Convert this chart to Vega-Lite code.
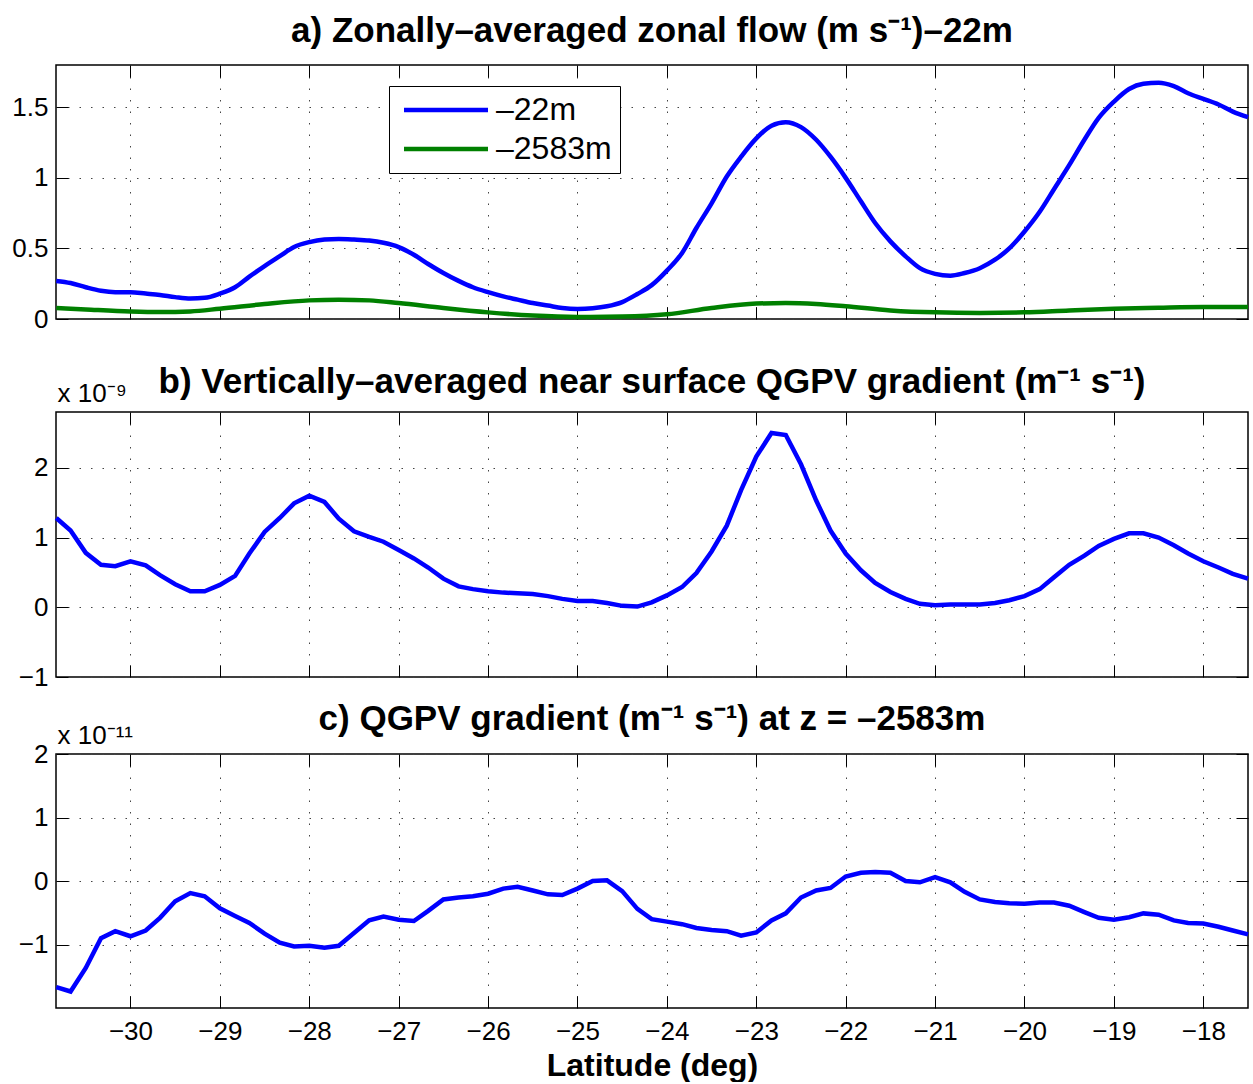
{
  "$schema": "https://vega.github.io/schema/vega-lite/v6.json",
  "background": "white",
  "padding": {"left": 11, "top": 12, "right": 4, "bottom": 0},
  "config": {
    "font": "Liberation Sans",
    "view": {"stroke": "#000", "strokeWidth": 1.5},
    "axis": {"labelFont": "Liberation Sans", "labelFontSize": 26, "labelColor": "#000", "tickColor": "#000", "tickSize": -12, "tickWidth": 1, "domain": false, "gridColor": "#444", "gridDash": [1.5, 10], "gridWidth": 1, "gridOpacity": 1, "titleColor": "#000", "titleFont": "Liberation Sans", "format": "~g"},
    "title": {"font": "Liberation Sans", "fontSize": 35, "fontWeight": "bold", "color": "#000", "anchor": "middle", "baseline": "alphabetic"}
  },
  "datasets": {
    "flow": [
      {"lat":-30.83,"u":0.27,"depth":"–22m"},{"lat":-30.67,"u":0.255,"depth":"–22m"},{"lat":-30.5,"u":0.225,"depth":"–22m"},{"lat":-30.33,"u":0.2,"depth":"–22m"},{"lat":-30.17,"u":0.19,"depth":"–22m"},{"lat":-30.0,"u":0.19,"depth":"–22m"},{"lat":-29.83,"u":0.18,"depth":"–22m"},{"lat":-29.67,"u":0.17,"depth":"–22m"},{"lat":-29.5,"u":0.155,"depth":"–22m"},{"lat":-29.33,"u":0.145,"depth":"–22m"},{"lat":-29.17,"u":0.15,"depth":"–22m"},{"lat":-29.0,"u":0.18,"depth":"–22m"},{"lat":-28.83,"u":0.225,"depth":"–22m"},{"lat":-28.67,"u":0.3,"depth":"–22m"},{"lat":-28.5,"u":0.375,"depth":"–22m"},{"lat":-28.33,"u":0.445,"depth":"–22m"},{"lat":-28.17,"u":0.51,"depth":"–22m"},{"lat":-28.0,"u":0.545,"depth":"–22m"},{"lat":-27.83,"u":0.563,"depth":"–22m"},{"lat":-27.67,"u":0.567,"depth":"–22m"},{"lat":-27.5,"u":0.563,"depth":"–22m"},{"lat":-27.33,"u":0.556,"depth":"–22m"},{"lat":-27.17,"u":0.54,"depth":"–22m"},{"lat":-27.0,"u":0.51,"depth":"–22m"},{"lat":-26.83,"u":0.455,"depth":"–22m"},{"lat":-26.67,"u":0.39,"depth":"–22m"},{"lat":-26.5,"u":0.326,"depth":"–22m"},{"lat":-26.33,"u":0.27,"depth":"–22m"},{"lat":-26.17,"u":0.225,"depth":"–22m"},{"lat":-26.0,"u":0.19,"depth":"–22m"},{"lat":-25.83,"u":0.16,"depth":"–22m"},{"lat":-25.67,"u":0.137,"depth":"–22m"},{"lat":-25.5,"u":0.113,"depth":"–22m"},{"lat":-25.33,"u":0.095,"depth":"–22m"},{"lat":-25.17,"u":0.078,"depth":"–22m"},{"lat":-25.0,"u":0.071,"depth":"–22m"},{"lat":-24.83,"u":0.076,"depth":"–22m"},{"lat":-24.67,"u":0.09,"depth":"–22m"},{"lat":-24.5,"u":0.12,"depth":"–22m"},{"lat":-24.33,"u":0.177,"depth":"–22m"},{"lat":-24.17,"u":0.24,"depth":"–22m"},{"lat":-24.0,"u":0.343,"depth":"–22m"},{"lat":-23.83,"u":0.468,"depth":"–22m"},{"lat":-23.67,"u":0.645,"depth":"–22m"},{"lat":-23.5,"u":0.82,"depth":"–22m"},{"lat":-23.33,"u":1.01,"depth":"–22m"},{"lat":-23.17,"u":1.15,"depth":"–22m"},{"lat":-23.0,"u":1.28,"depth":"–22m"},{"lat":-22.83,"u":1.37,"depth":"–22m"},{"lat":-22.67,"u":1.395,"depth":"–22m"},{"lat":-22.5,"u":1.36,"depth":"–22m"},{"lat":-22.33,"u":1.27,"depth":"–22m"},{"lat":-22.17,"u":1.15,"depth":"–22m"},{"lat":-22.0,"u":1.0,"depth":"–22m"},{"lat":-21.83,"u":0.834,"depth":"–22m"},{"lat":-21.67,"u":0.68,"depth":"–22m"},{"lat":-21.5,"u":0.55,"depth":"–22m"},{"lat":-21.33,"u":0.444,"depth":"–22m"},{"lat":-21.17,"u":0.36,"depth":"–22m"},{"lat":-21.0,"u":0.32,"depth":"–22m"},{"lat":-20.83,"u":0.307,"depth":"–22m"},{"lat":-20.67,"u":0.326,"depth":"–22m"},{"lat":-20.5,"u":0.36,"depth":"–22m"},{"lat":-20.33,"u":0.42,"depth":"–22m"},{"lat":-20.17,"u":0.5,"depth":"–22m"},{"lat":-20.0,"u":0.62,"depth":"–22m"},{"lat":-19.83,"u":0.76,"depth":"–22m"},{"lat":-19.67,"u":0.92,"depth":"–22m"},{"lat":-19.5,"u":1.09,"depth":"–22m"},{"lat":-19.33,"u":1.27,"depth":"–22m"},{"lat":-19.17,"u":1.425,"depth":"–22m"},{"lat":-19.0,"u":1.54,"depth":"–22m"},{"lat":-18.83,"u":1.63,"depth":"–22m"},{"lat":-18.67,"u":1.667,"depth":"–22m"},{"lat":-18.5,"u":1.674,"depth":"–22m"},{"lat":-18.33,"u":1.65,"depth":"–22m"},{"lat":-18.17,"u":1.6,"depth":"–22m"},{"lat":-18.0,"u":1.56,"depth":"–22m"},{"lat":-17.83,"u":1.52,"depth":"–22m"},{"lat":-17.67,"u":1.47,"depth":"–22m"},{"lat":-17.5,"u":1.43,"depth":"–22m"},
      {"lat":-30.83,"u":0.078,"depth":"–2583m"},{"lat":-30.5,"u":0.068,"depth":"–2583m"},{"lat":-30.0,"u":0.054,"depth":"–2583m"},{"lat":-29.67,"u":0.05,"depth":"–2583m"},{"lat":-29.33,"u":0.054,"depth":"–2583m"},{"lat":-29.0,"u":0.073,"depth":"–2583m"},{"lat":-28.5,"u":0.106,"depth":"–2583m"},{"lat":-28.0,"u":0.132,"depth":"–2583m"},{"lat":-27.67,"u":0.137,"depth":"–2583m"},{"lat":-27.33,"u":0.132,"depth":"–2583m"},{"lat":-27.0,"u":0.113,"depth":"–2583m"},{"lat":-26.5,"u":0.078,"depth":"–2583m"},{"lat":-26.0,"u":0.047,"depth":"–2583m"},{"lat":-25.5,"u":0.024,"depth":"–2583m"},{"lat":-25.0,"u":0.014,"depth":"–2583m"},{"lat":-24.5,"u":0.017,"depth":"–2583m"},{"lat":-24.0,"u":0.033,"depth":"–2583m"},{"lat":-23.5,"u":0.078,"depth":"–2583m"},{"lat":-23.0,"u":0.109,"depth":"–2583m"},{"lat":-22.67,"u":0.113,"depth":"–2583m"},{"lat":-22.33,"u":0.106,"depth":"–2583m"},{"lat":-22.0,"u":0.09,"depth":"–2583m"},{"lat":-21.5,"u":0.061,"depth":"–2583m"},{"lat":-21.0,"u":0.047,"depth":"–2583m"},{"lat":-20.5,"u":0.043,"depth":"–2583m"},{"lat":-20.0,"u":0.047,"depth":"–2583m"},{"lat":-19.5,"u":0.061,"depth":"–2583m"},{"lat":-19.0,"u":0.073,"depth":"–2583m"},{"lat":-18.5,"u":0.08,"depth":"–2583m"},{"lat":-18.0,"u":0.085,"depth":"–2583m"},{"lat":-17.5,"u":0.085,"depth":"–2583m"}
    ],
    "surf": [
      {"lat":-30.83,"g":1.28},{"lat":-30.67,"g":1.1},{"lat":-30.5,"g":0.78},{"lat":-30.33,"g":0.61},{"lat":-30.17,"g":0.59},{"lat":-30.0,"g":0.66},{"lat":-29.83,"g":0.6},{"lat":-29.67,"g":0.46},{"lat":-29.5,"g":0.33},{"lat":-29.33,"g":0.23},{"lat":-29.17,"g":0.23},{"lat":-29.0,"g":0.32},{"lat":-28.83,"g":0.45},{"lat":-28.67,"g":0.77},{"lat":-28.5,"g":1.08},{"lat":-28.33,"g":1.28},{"lat":-28.17,"g":1.49},{"lat":-28.0,"g":1.6},{"lat":-27.83,"g":1.51},{"lat":-27.67,"g":1.27},{"lat":-27.5,"g":1.09},{"lat":-27.33,"g":1.01},{"lat":-27.17,"g":0.94},{"lat":-27.0,"g":0.82},{"lat":-26.83,"g":0.7},{"lat":-26.67,"g":0.57},{"lat":-26.5,"g":0.41},{"lat":-26.33,"g":0.3},{"lat":-26.17,"g":0.26},{"lat":-26.0,"g":0.23},{"lat":-25.83,"g":0.21},{"lat":-25.67,"g":0.2},{"lat":-25.5,"g":0.19},{"lat":-25.33,"g":0.16},{"lat":-25.17,"g":0.12},{"lat":-25.0,"g":0.09},{"lat":-24.83,"g":0.09},{"lat":-24.67,"g":0.06},{"lat":-24.5,"g":0.02},{"lat":-24.33,"g":0.01},{"lat":-24.17,"g":0.07},{"lat":-24.0,"g":0.17},{"lat":-23.83,"g":0.29},{"lat":-23.67,"g":0.49},{"lat":-23.5,"g":0.8},{"lat":-23.33,"g":1.17},{"lat":-23.17,"g":1.68},{"lat":-23.0,"g":2.16},{"lat":-22.83,"g":2.5},{"lat":-22.67,"g":2.47},{"lat":-22.5,"g":2.05},{"lat":-22.33,"g":1.53},{"lat":-22.17,"g":1.1},{"lat":-22.0,"g":0.77},{"lat":-21.83,"g":0.53},{"lat":-21.67,"g":0.35},{"lat":-21.5,"g":0.22},{"lat":-21.33,"g":0.12},{"lat":-21.17,"g":0.05},{"lat":-21.0,"g":0.03},{"lat":-20.83,"g":0.04},{"lat":-20.67,"g":0.04},{"lat":-20.5,"g":0.04},{"lat":-20.33,"g":0.06},{"lat":-20.17,"g":0.1},{"lat":-20.0,"g":0.16},{"lat":-19.83,"g":0.26},{"lat":-19.67,"g":0.43},{"lat":-19.5,"g":0.61},{"lat":-19.33,"g":0.74},{"lat":-19.17,"g":0.88},{"lat":-19.0,"g":0.98},{"lat":-18.83,"g":1.06},{"lat":-18.67,"g":1.06},{"lat":-18.5,"g":1.0},{"lat":-18.33,"g":0.89},{"lat":-18.17,"g":0.77},{"lat":-18.0,"g":0.66},{"lat":-17.83,"g":0.57},{"lat":-17.67,"g":0.48},{"lat":-17.5,"g":0.41}
    ],
    "deep": [
      {"lat":-30.83,"g":-1.67},{"lat":-30.67,"g":-1.74},{"lat":-30.5,"g":-1.37},{"lat":-30.33,"g":-0.9},{"lat":-30.17,"g":-0.79},{"lat":-30.0,"g":-0.87},{"lat":-29.83,"g":-0.78},{"lat":-29.67,"g":-0.58},{"lat":-29.5,"g":-0.32},{"lat":-29.33,"g":-0.19},{"lat":-29.17,"g":-0.24},{"lat":-29.0,"g":-0.43},{"lat":-28.83,"g":-0.55},{"lat":-28.67,"g":-0.66},{"lat":-28.5,"g":-0.83},{"lat":-28.33,"g":-0.97},{"lat":-28.17,"g":-1.03},{"lat":-28.0,"g":-1.02},{"lat":-27.83,"g":-1.05},{"lat":-27.67,"g":-1.02},{"lat":-27.5,"g":-0.82},{"lat":-27.33,"g":-0.62},{"lat":-27.17,"g":-0.56},{"lat":-27.0,"g":-0.61},{"lat":-26.83,"g":-0.63},{"lat":-26.67,"g":-0.47},{"lat":-26.5,"g":-0.29},{"lat":-26.33,"g":-0.26},{"lat":-26.17,"g":-0.24},{"lat":-26.0,"g":-0.2},{"lat":-25.83,"g":-0.12},{"lat":-25.67,"g":-0.09},{"lat":-25.5,"g":-0.15},{"lat":-25.33,"g":-0.21},{"lat":-25.17,"g":-0.22},{"lat":-25.0,"g":-0.12},{"lat":-24.83,"g":0.0},{"lat":-24.67,"g":0.01},{"lat":-24.5,"g":-0.16},{"lat":-24.33,"g":-0.44},{"lat":-24.17,"g":-0.6},{"lat":-24.0,"g":-0.64},{"lat":-23.83,"g":-0.68},{"lat":-23.67,"g":-0.74},{"lat":-23.5,"g":-0.77},{"lat":-23.33,"g":-0.79},{"lat":-23.17,"g":-0.86},{"lat":-23.0,"g":-0.81},{"lat":-22.83,"g":-0.62},{"lat":-22.67,"g":-0.51},{"lat":-22.5,"g":-0.26},{"lat":-22.33,"g":-0.15},{"lat":-22.17,"g":-0.11},{"lat":-22.0,"g":0.07},{"lat":-21.83,"g":0.13},{"lat":-21.67,"g":0.14},{"lat":-21.5,"g":0.13},{"lat":-21.33,"g":0.0},{"lat":-21.17,"g":-0.02},{"lat":-21.0,"g":0.06},{"lat":-20.83,"g":-0.02},{"lat":-20.67,"g":-0.17},{"lat":-20.5,"g":-0.29},{"lat":-20.33,"g":-0.33},{"lat":-20.17,"g":-0.35},{"lat":-20.0,"g":-0.36},{"lat":-19.83,"g":-0.34},{"lat":-19.67,"g":-0.34},{"lat":-19.5,"g":-0.39},{"lat":-19.33,"g":-0.49},{"lat":-19.17,"g":-0.58},{"lat":-19.0,"g":-0.61},{"lat":-18.83,"g":-0.57},{"lat":-18.67,"g":-0.51},{"lat":-18.5,"g":-0.53},{"lat":-18.33,"g":-0.62},{"lat":-18.17,"g":-0.66},{"lat":-18.0,"g":-0.67},{"lat":-17.83,"g":-0.72},{"lat":-17.67,"g":-0.78},{"lat":-17.5,"g":-0.84}
    ]
  },
  "spacing": 31,
  "vconcat": [
    {
      "width": 1192, "height": 254,
      "title": {"text": "a) Zonally–averaged zonal flow (m s⁻¹)–22m", "offset": 16},
      "data": {"name": "flow"},
      "layer": [
        {
          "mark": {"type": "line", "strokeWidth": 4.5, "interpolate": "monotone"},
          "encoding": {
            "x": {"field": "lat", "type": "quantitative", "scale": {"domain": [-30.833, -17.5], "nice": false, "zero": false},
                  "axis": {"values": [-30,-29,-28,-27,-26,-25,-24,-23,-22,-21,-20,-19,-18], "labels": false, "title": null, "grid": true}},
            "y": {"field": "u", "type": "quantitative", "scale": {"domain": [0, 1.8], "nice": false},
                  "axis": {"values": [0, 0.5, 1, 1.5], "title": null, "grid": true, "labelPadding": 20}},
            "color": {"field": "depth", "type": "nominal",
                      "scale": {"domain": ["–22m", "–2583m"], "range": ["#0000ff", "#008000"]},
                      "legend": {"title": null, "orient": "none", "legendX": 333, "legendY": 21, "direction": "vertical",
                                 "symbolType": "M-0.9,0H7.5", "symbolSize": 400, "symbolStrokeWidth": 4.5,
                                 "labelFontSize": 32, "labelFont": "Liberation Sans", "labelColor": "#000", "labelOffset": 67,
                                 "strokeColor": "#000", "fillColor": "#fff", "padding": 8, "rowPadding": 7, "cornerRadius": 0}}
          }
        },
        {
          "mark": {"type": "line", "opacity": 0},
          "encoding": {
            "x": {"field": "lat", "type": "quantitative", "scale": {"domain": [-30.833, -17.5], "nice": false, "zero": false},
                  "axis": {"orient": "top", "values": [-30,-29,-28,-27,-26,-25,-24,-23,-22,-21,-20,-19,-18], "labels": false, "title": null, "grid": false}},
            "y": {"field": "u", "type": "quantitative", "scale": {"domain": [0, 1.8], "nice": false},
                  "axis": {"orient": "right", "values": [0, 0.5, 1, 1.5], "labels": false, "title": null, "grid": false}},
            "detail": {"field": "depth", "type": "nominal"}
          }
        }
      ],
      "resolve": {"axis": {"x": "independent", "y": "independent"}}
    },
    {
      "spacing": 10,
      "vconcat": [
        {
          "width": 1192, "height": 265,
          "title": {"text": "b) Vertically–averaged near surface QGPV gradient (m⁻¹ s⁻¹)", "offset": -20},
          "data": {"name": "surf"},
          "layer": [
            {
              "mark": {"type": "line", "strokeWidth": 4.5, "color": "#0000ff"},
              "encoding": {
                "x": {"field": "lat", "type": "quantitative", "scale": {"domain": [-30.833, -17.5], "nice": false, "zero": false},
                      "axis": {"values": [-30,-29,-28,-27,-26,-25,-24,-23,-22,-21,-20,-19,-18], "labels": false, "title": null, "grid": true}},
                "y": {"field": "g", "type": "quantitative", "scale": {"domain": [-1, 2.8], "nice": false, "zero": false},
                      "axis": {"values": [-1, 0, 1, 2], "grid": true, "labelPadding": 20, "title": "x 10⁻⁹", "titleAngle": 0, "titleAlign": "left", "titleBaseline": "alphabetic", "titleX": 1, "titleY": -11, "titleFontSize": 26, "titleFontWeight": "normal"}}
              }
            },
            {
              "mark": {"type": "line", "opacity": 0},
              "encoding": {
                "x": {"field": "lat", "type": "quantitative", "scale": {"domain": [-30.833, -17.5], "nice": false, "zero": false},
                      "axis": {"orient": "top", "values": [-30,-29,-28,-27,-26,-25,-24,-23,-22,-21,-20,-19,-18], "labels": false, "title": null, "grid": false}},
                "y": {"field": "g", "type": "quantitative", "scale": {"domain": [-1, 2.8], "nice": false, "zero": false},
                      "axis": {"orient": "right", "values": [-1, 0, 1, 2], "labels": false, "title": null, "grid": false}}
              }
            }
          ],
          "resolve": {"axis": {"x": "independent", "y": "independent"}}
        },
        {
          "width": 1192, "height": 254,
          "title": {"text": "c) QGPV gradient (m⁻¹ s⁻¹) at z = –2583m", "offset": -15},
          "data": {"name": "deep"},
          "layer": [
            {
              "mark": {"type": "line", "strokeWidth": 4.5, "color": "#0000ff"},
              "encoding": {
                "x": {"field": "lat", "type": "quantitative", "scale": {"domain": [-30.833, -17.5], "nice": false, "zero": false},
                      "axis": {"values": [-30,-29,-28,-27,-26,-25,-24,-23,-22,-21,-20,-19,-18], "grid": true, "labelPadding": 22,
                               "title": "Latitude (deg)", "titleFontSize": 32, "titleFontWeight": "bold", "titlePadding": 6}},
                "y": {"field": "g", "type": "quantitative", "scale": {"domain": [-2, 2], "nice": false, "zero": false},
                      "axis": {"values": [-1, 0, 1, 2], "grid": true, "labelPadding": 20, "title": "x 10⁻¹¹", "titleAngle": 0, "titleAlign": "left", "titleBaseline": "alphabetic", "titleX": 1, "titleY": -11, "titleFontSize": 26, "titleFontWeight": "normal"}}
              }
            },
            {
              "mark": {"type": "line", "opacity": 0},
              "encoding": {
                "x": {"field": "lat", "type": "quantitative", "scale": {"domain": [-30.833, -17.5], "nice": false, "zero": false},
                      "axis": {"orient": "top", "values": [-30,-29,-28,-27,-26,-25,-24,-23,-22,-21,-20,-19,-18], "labels": false, "title": null, "grid": false}},
                "y": {"field": "g", "type": "quantitative", "scale": {"domain": [-2, 2], "nice": false, "zero": false},
                      "axis": {"orient": "right", "values": [-1, 0, 1, 2], "labels": false, "title": null, "grid": false}}
              }
            }
          ],
          "resolve": {"axis": {"x": "independent", "y": "independent"}}
        }
      ]
    }
  ]
}
